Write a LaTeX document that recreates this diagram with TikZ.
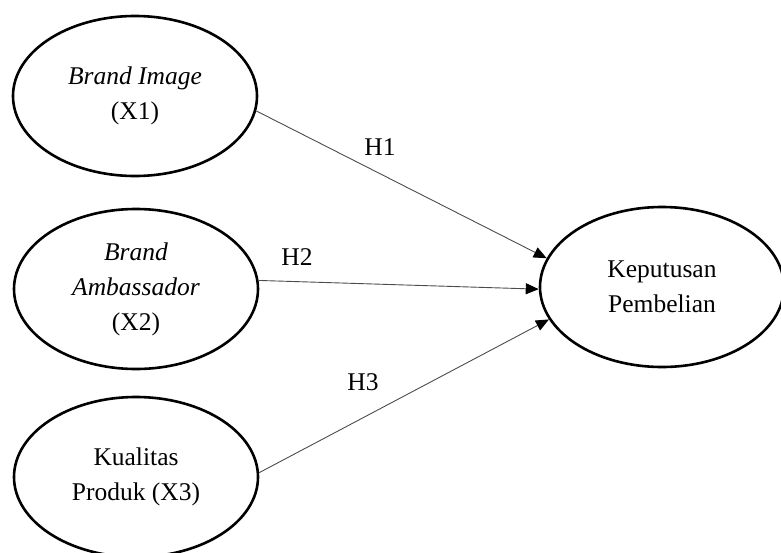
\documentclass[tikz,border=0pt]{standalone}
\usepackage{fontspec}
\setmainfont{Liberation Serif}
\usetikzlibrary{shapes.geometric,arrows.meta}
\begin{document}
\begin{tikzpicture}[x=1pt,y=-1pt,
  var/.style={draw=black,line width=2.6pt,ellipse,minimum width=244pt,minimum height=160pt,inner sep=0pt,align=center,font=\fontsize{25.5}{35}\selectfont},
  lbl/.style={font=\fontsize{25.5}{30}\selectfont,inner sep=0pt},
  path/.style={draw=black!70,line width=0.9pt,-{Triangle[length=13pt,width=11pt,color=black]}}]
\useasboundingbox (0,0) rectangle (781,552);
\node[var] (x1) at (135,96) {\itshape Brand Image\\(X1)};
\node[var] (x2) at (136,289) {\itshape Brand\\\itshape Ambassador\\(X2)};
\node[var] (x3) at (136,477) {Kualitas\\Produk (X3)};
\node[var] (y) at (662,287) {Keputusan\\Pembelian};
\draw[path] (x1.-7) -- (y.166);
\draw[path] (x2.4) -- (y.181);
\draw[path] (x3.2) -- (y.-164);
\node[lbl] (h1) at (380,147) {H1};
\node[lbl] (h2) at (297,257) {H2};
\node[lbl] (h3) at (363,382) {H3};
\end{tikzpicture}
\end{document}
